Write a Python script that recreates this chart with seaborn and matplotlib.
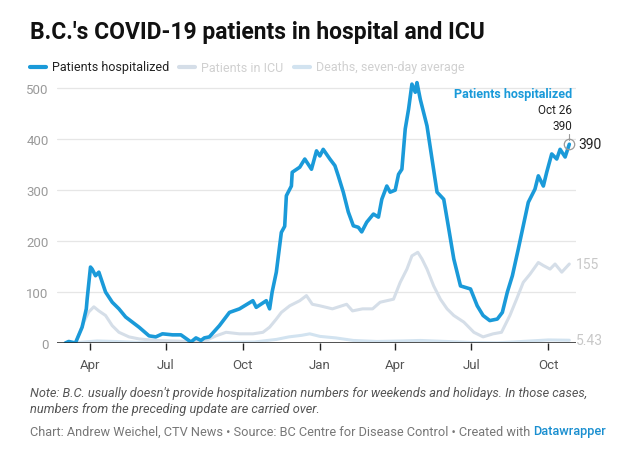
import matplotlib
matplotlib.use("Agg")
import matplotlib.pyplot as plt
import seaborn as sns
import pandas as pd

# ---------------- data ----------------
hosp_dates = [
    "2020-03-03", "2020-03-07", "2020-03-15", "2020-03-23", "2020-03-28", "2020-03-29",
    "2020-04-02", "2020-04-04", "2020-04-08", "2020-04-12", "2020-04-20", "2020-04-28",
    "2020-05-06", "2020-05-14", "2020-05-22", "2020-05-30", "2020-06-11", "2020-06-19",
    "2020-06-27", "2020-07-09", "2020-07-19", "2020-07-31", "2020-08-06", "2020-08-12",
    "2020-08-16", "2020-08-22", "2020-09-03", "2020-09-15", "2020-09-27", "2020-10-13",
    "2020-10-17", "2020-10-29", "2020-11-02", "2020-11-05", "2020-11-10", "2020-11-16",
    "2020-11-20", "2020-11-22", "2020-11-28", "2020-11-29", "2020-12-08", "2020-12-14",
    "2020-12-22", "2020-12-28", "2021-01-01", "2021-01-05", "2021-01-13", "2021-01-19",
    "2021-01-23", "2021-01-29", "2021-02-04", "2021-02-10", "2021-02-16", "2021-02-20",
    "2021-02-26", "2021-03-06", "2021-03-12", "2021-03-16", "2021-03-22", "2021-03-26",
    "2021-04-01", "2021-04-05", "2021-04-09", "2021-04-13", "2021-04-17", "2021-04-21",
    "2021-04-25", "2021-04-27", "2021-05-01", "2021-05-09", "2021-05-15", "2021-05-21",
    "2021-05-29", "2021-06-04", "2021-06-10", "2021-06-18", "2021-06-30", "2021-07-08",
    "2021-07-15", "2021-07-23", "2021-08-01", "2021-08-07", "2021-08-13", "2021-08-19",
    "2021-08-26", "2021-09-01", "2021-09-07", "2021-09-15", "2021-09-19", "2021-09-25",
    "2021-09-29", "2021-10-05", "2021-10-11", "2021-10-15", "2021-10-21", "2021-10-26",
]
hosp_values = [
    0, 3, 0, 31, 67, 86,
    149, 145, 132, 139, 100, 80,
    67, 51, 41, 31, 14, 12,
    18, 16, 16, 2, 10, 5,
    10, 12, 34, 60, 67, 83,
    70, 83, 67, 100, 139, 217,
    229, 289, 308, 335, 345, 361,
    341, 377, 367, 380, 361, 348,
    328, 296, 257, 230, 227, 218,
    237, 253, 247, 282, 308, 296,
    300, 331, 341, 420, 459, 508,
    492, 511, 478, 426, 361, 296,
    282, 224, 165, 112, 106, 73,
    54, 44, 47, 60, 100, 132,
    184, 230, 276, 302, 328, 308,
    335, 371, 361, 380, 365, 390,
]

icu_dates = [
    "2020-03-15", "2020-03-25", "2020-03-31", "2020-04-06", "2020-04-12", "2020-04-20",
    "2020-04-28", "2020-05-06", "2020-05-18", "2020-05-30", "2020-06-19", "2020-07-09",
    "2020-07-31", "2020-08-18", "2020-08-30", "2020-09-11", "2020-09-27", "2020-10-13",
    "2020-10-25", "2020-11-02", "2020-11-10", "2020-11-16", "2020-11-26", "2020-12-08",
    "2020-12-16", "2020-12-23", "2021-01-01", "2021-01-16", "2021-02-02", "2021-02-09",
    "2021-02-21", "2021-03-05", "2021-03-14", "2021-03-22", "2021-03-30", "2021-04-07",
    "2021-04-15", "2021-04-21", "2021-04-28", "2021-05-03", "2021-05-09", "2021-05-17",
    "2021-05-25", "2021-06-02", "2021-06-10", "2021-06-22", "2021-07-04", "2021-07-15",
    "2021-07-27", "2021-08-06", "2021-08-16", "2021-08-24", "2021-09-01", "2021-09-09",
    "2021-09-19", "2021-09-25", "2021-10-03", "2021-10-09", "2021-10-17", "2021-10-26",
]
icu_values = [
    0, 41, 61, 71, 63, 54,
    34, 21, 12, 8, 5, 4,
    3, 5, 14, 21, 18, 18,
    21, 31, 47, 60, 73, 83,
    93, 76, 73, 67, 76, 63,
    67, 67, 80, 83, 86, 119,
    145, 171, 178, 165, 145, 112,
    86, 67, 54, 41, 21, 12,
    18, 21, 54, 86, 119, 135,
    158, 152, 145, 155, 139, 155,
]

death_dates = [
    "2020-03-10", "2020-04-10", "2020-05-01", "2020-06-01", "2020-07-01", "2020-08-01",
    "2020-09-01", "2020-10-15", "2020-11-10", "2020-11-25", "2020-12-10", "2020-12-20",
    "2021-01-01", "2021-01-20", "2021-02-10", "2021-03-10", "2021-04-10", "2021-05-01",
    "2021-06-01", "2021-07-01", "2021-08-01", "2021-08-20", "2021-09-10", "2021-10-01",
    "2021-10-26",
]
death_values = [
    0, 4, 3, 1, 0.3, 0.2,
    1, 2, 7, 12, 15, 18,
    13, 10, 5, 3, 4, 5,
    3, 1, 0.5, 2, 4, 6,
    5.43,
]

series_names = ["Patients hospitalized", "Patients in ICU", "Deaths, seven-day average"]
series_colors = ["#1a9ad9", "#d5dee8", "#d2e3f0"]
month_ticks = ["2020-04-01", "2020-07-01", "2020-10-01", "2021-01-01",
               "2021-04-01", "2021-07-01", "2021-10-01"]
month_labels = ["Apr", "Jul", "Oct", "Jan", "Apr", "Jul", "Oct"]
y_ticks = [0, 100, 200, 300, 400, 500]

title_text = "B.C.'s COVID-19 patients in hospital and ICU"
note_text = ("Note: B.C. usually doesn't provide hospitalization numbers for weekends and holidays. In those cases,\n"
             "numbers from the preceding update are carried over.")
credit_text = "Chart: Andrew Weichel, CTV News \u2022 Source: BC Centre for Disease Control \u2022 Created with "
credit_link = "Datawrapper"

# ---------------- build tidy frame ----------------
frames = []
for name, d, v in zip(series_names,
                      [hosp_dates, icu_dates, death_dates],
                      [hosp_values, icu_values, death_values]):
    frames.append(pd.DataFrame({"date": pd.to_datetime(d), "value": v, "series": name}))
df = pd.concat(frames, ignore_index=True)

sns.set_theme(style="white")
plt.rcParams["font.family"] = ["Roboto", "DejaVu Sans"]

W, H = 640, 456
fig = plt.figure(figsize=(W / 100, H / 100), dpi=100)
fig.patch.set_facecolor("white")


def fit_width(txt, target_px):
    """Scale a text's font size so that it spans target_px pixels."""
    fig.canvas.draw()
    w = txt.get_window_extent().width
    txt.set_fontsize(txt.get_fontsize() * target_px / w)
    fig.canvas.draw()


ax_left, ax_right = 57, 576
ax_bottom, ax_top = 344, 79
ax = fig.add_axes([ax_left / W, 1 - ax_bottom / H,
                   (ax_right - ax_left) / W, (ax_bottom - ax_top) / H])

# draw lines (background first)
for name, col, lw in zip(series_names[::-1], series_colors[::-1], [2.2, 2.2, 2.6]):
    sub = df[df["series"] == name]
    sns.lineplot(data=sub, x="date", y="value", ax=ax, color=col, linewidth=lw,
                 legend=False, solid_joinstyle="round", solid_capstyle="round")

ax.set_xlim(pd.Timestamp("2020-02-22"), pd.Timestamp("2021-11-03"))
ax.set_ylim(0, 520)

# grid
for t in y_ticks[1:]:
    ax.axhline(t, color="#e6e6e6", lw=0.9, zorder=0)
ax.axhline(0, color="#222222", lw=1.1, zorder=3)
for s in ax.spines.values():
    s.set_visible(False)

ax.set_yticks(y_ticks)
ax.set_yticklabels([str(t) for t in y_ticks], color="#9a9a9a", fontsize=9.5)
ax.tick_params(axis="y", length=0, pad=6)
ax.set_xticks(pd.to_datetime(month_ticks))
ax.set_xticklabels(month_labels, color="#555555", fontsize=9.5)
ax.tick_params(axis="x", length=5, width=1, color="#222222", pad=6, direction="out",
               bottom=True)
ax.set_xlabel("")
ax.set_ylabel("")

# end labels
last_date = pd.Timestamp(hosp_dates[-1])
ax.annotate(str(hosp_values[-1]), xy=(last_date, hosp_values[-1]), xytext=(6.5, 0),
            textcoords="offset points", va="center", ha="left", fontsize=10, color="#222222")
ax.annotate(str(icu_values[-1]), xy=(last_date, icu_values[-1]), xytext=(5, 0),
            textcoords="offset points", va="center", ha="left", fontsize=10, color="#c8c8c8")
ax.annotate(str(death_values[-1]), xy=(last_date, death_values[-1]), xytext=(5, 0),
            textcoords="offset points", va="center", ha="left", fontsize=10, color="#c8c8c8")

# highlight circle + annotation
ax.plot([last_date], [hosp_values[-1]], marker="o", ms=7.5, mfc="none", mec="#9a9a9a",
        mew=0.9, zorder=5)
ax.plot([last_date, last_date], [hosp_values[-1] + 8, hosp_values[-1] + 21],
        color="#9a9a9a", lw=0.8, zorder=5)
ax.annotate("Patients hospitalized", xy=(last_date, hosp_values[-1]), xytext=(2, 32),
            textcoords="offset points", ha="right", va="bottom", fontsize=9,
            fontweight="bold", color="#1a9ad9")
ax.annotate("Oct 26\n390", xy=(last_date, hosp_values[-1]), xytext=(2, 9),
            textcoords="offset points", ha="right", va="bottom", fontsize=8.5,
            color="#222222", linespacing=1.25)

# title
title = fig.text(30 / W, 1 - 33 / H, title_text,
                 fontsize=15, fontweight="bold", color="#111111", va="center", ha="left")
fit_width(title, 458)

# legend
leg_y = 1 - 68 / H
x = 30
for name, col, tcol in zip(series_names, series_colors, ["#222222", "#d0d0d0", "#d0d0d0"]):
    fig.add_artist(plt.Line2D([x / W, (x + 16) / W], [leg_y, leg_y], color=col, lw=3,
                              solid_capstyle="round", transform=fig.transFigure))
    t = fig.text((x + 22) / W, leg_y, name, fontsize=9, color=tcol, va="center", ha="left")
    fig.canvas.draw()
    bb = t.get_window_extent()
    x = bb.x1 + 10

# note + credits
note = fig.text(30 / W, 1 - 402 / H, note_text,
                fontsize=8.9, style="italic", color="#555555", va="center", ha="left",
                linespacing=1.3)
fit_width(note, 560)
cred = fig.text(30 / W, 1 - 432 / H, credit_text,
                fontsize=9.2, color="#777777", va="center", ha="left")
fit_width(cred, 574 * 0.877)
bb = cred.get_window_extent()
fig.text(bb.x1 / W, 1 - 432 / H, credit_link, fontsize=cred.get_fontsize(), color="#1a8fd0",
         va="center", ha="left", fontweight="medium")

fig.savefig("out.png", dpi=100, facecolor="white")
